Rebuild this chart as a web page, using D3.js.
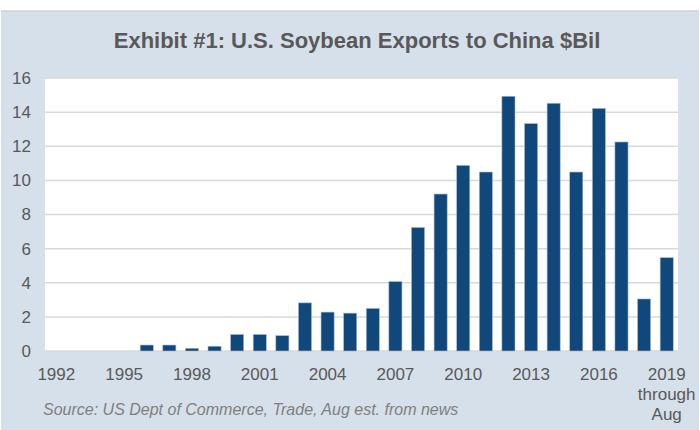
<!DOCTYPE html>
<html>
<head>
<meta charset="utf-8">
<script src="https://cdn.jsdelivr.net/npm/d3@7"></script>
<style>
  html, body { margin: 0; padding: 0; background: #fff; }
  svg { display: block; font-family: "Liberation Sans", Arial, sans-serif; }
</style>
</head>
<body>
<div id="chart"></div>
<script>
// U.S. soybean exports to China, $ billions (2019 = through August)
const years = ["1992","1993","1994","1995","1996","1997","1998","1999","2000","2001",
               "2002","2003","2004","2005","2006","2007","2008","2009","2010","2011",
               "2012","2013","2014","2015","2016","2017","2018","2019"];
const exportsBil = [0, 0, 0, 0, 0.35, 0.35, 0.16, 0.28, 0.97, 0.97,
                    0.9, 2.82, 2.28, 2.22, 2.5, 4.07, 7.24, 9.2, 10.88, 10.49,
                    14.93, 13.33, 14.52, 10.49, 14.22, 12.25, 3.05, 5.47];
const xTickYears = ["1992","1995","1998","2001","2004","2007","2010","2013","2016","2019"];
const yTicks = [0, 2, 4, 6, 8, 10, 12, 14, 16];

const W = 700, H = 430;
const plot = { left: 45, right: 678, top: 78, bottom: 351 };

const svg = d3.select("#chart").append("svg")
    .attr("width", W)
    .attr("height", H);

// panel background
svg.append("rect")
    .attr("x", 1).attr("y", 11)
    .attr("width", W - 2).attr("height", H - 11)
    .attr("fill", "#d6e0ea");
svg.append("line")
    .attr("x1", 1).attr("x2", W - 1)
    .attr("y1", 11).attr("y2", 11)
    .attr("stroke", "#cfd2d4").attr("stroke-width", 1.5);

// title
svg.append("text")
    .attr("x", 357).attr("y", 48)
    .attr("text-anchor", "middle")
    .attr("fill", "#595959")
    .style("font-size", "22px")
    .style("font-weight", "bold")
    .text("Exhibit #1: U.S. Soybean Exports to China $Bil");

// plot area
svg.append("rect")
    .attr("x", plot.left).attr("y", plot.top)
    .attr("width", plot.right - plot.left)
    .attr("height", plot.bottom - plot.top)
    .attr("fill", "#fff");

const x = d3.scaleBand()
    .domain(years)
    .range([plot.left, plot.right])
    .paddingInner(0.42)
    .paddingOuter(0.21);

const y = d3.scaleLinear()
    .domain([0, 16])
    .range([plot.bottom, plot.top]);

// gridlines
svg.append("g")
    .selectAll("line")
    .data(yTicks)
    .join("line")
    .attr("x1", plot.left).attr("x2", plot.right)
    .attr("y1", d => y(d)).attr("y2", d => y(d))
    .attr("stroke", "#d9d9d9")
    .attr("stroke-width", 1.5);

// y axis labels
const yAxis = d3.axisLeft(y).tickValues(yTicks).tickSize(0).tickPadding(14);
svg.append("g")
    .attr("transform", `translate(${plot.left},0)`)
    .call(yAxis)
    .call(g => g.select(".domain").remove())
    .call(g => g.selectAll("text")
        .attr("fill", "#595959")
        .style("font-size", "17px")
        .style("font-family", "'Liberation Sans', Arial, sans-serif"));

// bars
svg.append("g")
    .selectAll("rect")
    .data(years.map((yr, i) => ({ yr, v: exportsBil[i] })))
    .join("rect")
    .attr("x", d => x(d.yr))
    .attr("width", x.bandwidth())
    .attr("y", d => y(d.v))
    .attr("height", d => y(0) - y(d.v))
    .attr("fill", "#11487b")
    .attr("stroke", "#a9bdd2")
    .attr("stroke-width", 0.6);

// x axis labels
const xAxis = d3.axisBottom(x).tickValues(xTickYears).tickSize(0).tickPadding(17);
const gx = svg.append("g")
    .attr("transform", `translate(0,${plot.bottom})`)
    .call(xAxis)
    .call(g => g.select(".domain").remove());
gx.selectAll("text")
    .attr("fill", "#595959")
    .style("font-size", "17px")
    .style("font-family", "'Liberation Sans', Arial, sans-serif");

// extra lines under last label
const lastX = x("2019") + x.bandwidth() / 2;
svg.append("text")
    .attr("x", lastX).attr("y", 400)
    .attr("text-anchor", "middle")
    .attr("fill", "#595959")
    .style("font-size", "17px")
    .text("through");
svg.append("text")
    .attr("x", lastX).attr("y", 420)
    .attr("text-anchor", "middle")
    .attr("fill", "#595959")
    .style("font-size", "17px")
    .text("Aug");

// source note
svg.append("text")
    .attr("x", 43).attr("y", 415)
    .attr("fill", "#7f7f7f")
    .style("font-size", "16px")
    .style("font-style", "italic")
    .text("Source: US Dept of Commerce, Trade, Aug est. from news");
</script>
</body>
</html>
